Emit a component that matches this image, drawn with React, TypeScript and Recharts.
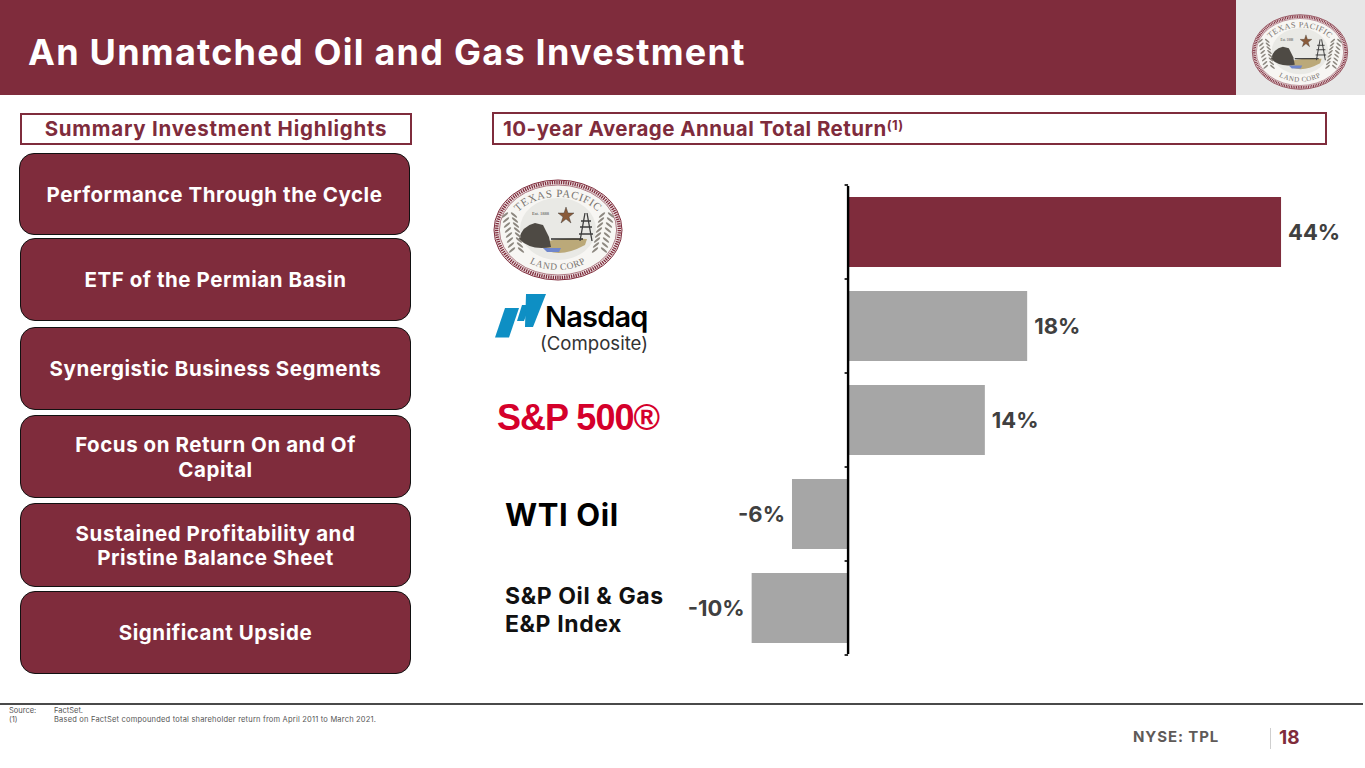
import React, { useId } from "react";
import { BarChart, Bar, XAxis, YAxis, Cell, LabelList, ReferenceLine } from "recharts";

const categories = ["Texas Pacific Land Corp", "Nasdaq Composite", "S&P 500", "WTI Oil", "S&P Oil & Gas E&P Index"];
const returns = [44, 18.2, 13.9, -5.7, -9.8];
const barColors = ["#7F2C3C", "#A6A6A6", "#A6A6A6", "#A6A6A6", "#A6A6A6"];
const highlights = [
  ["Performance Through the Cycle"],
  ["ETF of the Permian Basin"],
  ["Synergistic Business Segments"],
  ["Focus on Return On and Of", "Capital"],
  ["Sustained Profitability and", "Pristine Balance Sheet"],
  ["Significant Upside"],
];
const pillBoxes = [
  [19, 153, 391, 82],
  [20, 238, 391, 83],
  [20, 327, 391, 83],
  [20, 415, 391, 83],
  [20, 503, 391, 84],
  [20, 591, 391, 83],
];
const chartData = categories.map((name, i) => ({ name, value: returns[i] }));

const MAROON = "#7F2C3C";
const FONT = "Inter, 'Open Sans', sans-serif";

function Seal({ x, y, width, height }: { x: number; y: number; width: number; height: number }) {
  const id = useId().replace(/[^a-zA-Z0-9]/g, "");
  const leaves = [0, 1, 2, 3, 4, 5, 6, 7];
  return (
    <svg x={x} y={y} width={width} height={height} viewBox="0 0 130 102" style={{ overflow: "visible" }}>
      <ellipse cx={65} cy={51} rx={64} ry={50} fill="#EFE7E7" stroke={MAROON} strokeWidth={1} />
      <ellipse cx={65} cy={51} rx={61.3} ry={47.5} fill="none" stroke={MAROON} strokeWidth={3.4} strokeDasharray="1.3 1" />
      <ellipse cx={65} cy={51} rx={58.6} ry={45} fill="#F7F6F3" stroke={MAROON} strokeWidth={0.6} />
      <ellipse cx={65} cy={50} rx={38} ry={31} fill="#E9E9E5" />
      <path id={`${id}a`} d="M 17 52 A 48 34 0 0 1 113 52" fill="none" />
      <path id={`${id}b`} d="M 22 62 A 43 29 0 0 0 108 62" fill="none" />
      <text fontFamily="'Liberation Serif', serif" fontSize={11} fill="#77736F" letterSpacing={0.6} textAnchor="middle">
        <textPath href={`#${id}a`} startOffset="50%">TEXAS PACIFIC</textPath>
      </text>
      <text fontFamily="'Liberation Serif', serif" fontSize={9.5} fill="#77736F" letterSpacing={0.6} textAnchor="middle">
        <textPath href={`#${id}b`} startOffset="50%">LAND CORP</textPath>
      </text>
      <text x={39} y={36} fontFamily="'Liberation Serif', serif" fontSize={4.5} fill="#444">Est. 1888</text>
      <polygon points="73,28 75,34 81,34 76,38 78,44 73,40 68,44 70,38 65,34 71,34" fill="#8A5B3A" stroke="#333" strokeWidth={0.4} />
      <path d="M 45 66 Q 60 58 94 60 L 92 66 Q 70 78 55 72 Z" fill="#BBA979" />
      <path d="M 26 60 Q 29 47 42 44 L 50 46 L 56 58 L 58 68 Q 38 72 26 60 Z" fill="#4E4A44" />
      <path d="M 50 69 H 68 L 66 73 H 54 Z" fill="#6F86CB" />
      <path d="M 58 60 H 90" stroke="#222" strokeWidth={1.4} />
      <path d="M 92 34 L 87 62 M 94 34 L 99 62 M 88 42 H 98 M 87 48 H 99 M 86 55 H 100" stroke="#3D3D3D" strokeWidth={1.3} fill="none" />
      {leaves.map((i) => (
        <g key={i} fill="#8D8880">
          <ellipse cx={12 + i} cy={36 + i * 5} rx={4} ry={1.1} transform={`rotate(-40 ${12 + i} ${36 + i * 5})`} />
          <ellipse cx={21 + i} cy={36 + i * 5} rx={4} ry={1.1} transform={`rotate(40 ${21 + i} ${36 + i * 5})`} />
          <ellipse cx={118 - i} cy={36 + i * 5} rx={4} ry={1.1} transform={`rotate(40 ${118 - i} ${36 + i * 5})`} />
          <ellipse cx={109 - i} cy={36 + i * 5} rx={4} ry={1.1} transform={`rotate(-40 ${109 - i} ${36 + i * 5})`} />
        </g>
      ))}
    </svg>
  );
}

function CategoryMark(props: any) {
  const { x, y, payload } = props;
  const left = x - 227;
  switch (payload.value) {
    case categories[0]:
      return <Seal x={left - 2} y={y - 53} width={130} height={102} />;
    case categories[1]:
      return (
        <g>
          <g transform={`translate(${left},${y - 32})`} fill="#0E8FC4">
            <path d="M0 43.5 L10 14 L24 14 L14 43.5 Z" />
            <path d="M22 27 L27 11 L35 11 L29 27 Z" />
            <path d="M31 0 L51 0 L38 33 L30 33 Z" />
          </g>
          <text x={left + 50} y={y + 1} fontFamily={FONT} fontSize={29} fontWeight={600} fill="#000" letterSpacing={-0.8}>Nasdaq</text>
          <text x={left + 45} y={y + 24} fontFamily={FONT} fontSize={18.6} fill="#333">(Composite)</text>
        </g>
      );
    case categories[2]:
      return <text x={left + 2} y={y + 10} fontFamily="'Liberation Sans', sans-serif" fontSize={36} fontWeight={700} fill="#D5002B" letterSpacing={-1}>S&amp;P 500®</text>;
    case categories[3]:
      return <text x={left + 10} y={y + 12} fontFamily={FONT} fontSize={31} fontWeight={700} fill="#000" letterSpacing={0.6}>WTI Oil</text>;
    default:
      return (
        <text fontFamily={FONT} fontSize={23} fontWeight={700} fill="#111" letterSpacing={0.6}>
          <tspan x={left + 10} y={y - 4}>S&amp;P Oil &amp; Gas</tspan>
          <tspan x={left + 10} y={y + 24}>E&amp;P Index</tspan>
        </text>
      );
  }
}

function ZeroAxis(props: any) {
  const { x1, y1, x2, y2 } = props;
  const step = (y2 - y1) / categories.length;
  return (
    <g stroke="#000" fill="none">
      <line x1={x1} x2={x2} y1={y1 - 1} y2={y2 + 1} strokeWidth={2.4} />
      {[...categories, "end"].map((c, i) => (
        <line key={c} x1={x1 - 3.5} x2={x1} y1={y1 + i * step} y2={y1 + i * step} strokeWidth={1.6} />
      ))}
    </g>
  );
}

const box = (left: number, top: number, width: number, height: number): React.CSSProperties => ({
  position: "absolute",
  left,
  top,
  width,
  height,
  boxSizing: "border-box",
});

export default function App() {
  return (
    <div style={{ position: "absolute", left: 0, top: 0, width: 1365, height: 768, background: "#fff", overflow: "hidden", fontFamily: FONT }}>
      <div style={{ ...box(0, 0, 1236, 95), background: MAROON }} />
      <div style={{ ...box(1236, 0, 129, 95), background: "#E7E7E7" }} />
      <div style={{ ...box(28, 25, 1000, 54), color: "#fff", fontSize: 36, fontWeight: 700, lineHeight: "54px", letterSpacing: 1.25, whiteSpace: "nowrap" }}>
        An Unmatched Oil and Gas Investment
      </div>
      <svg style={{ ...box(1240, 8, 120, 88) }} width={120} height={88}>
        <Seal x={8} y={6} width={104} height={76} />
      </svg>

      <div style={{ ...box(20, 113, 392, 32), border: `2px solid ${MAROON}`, color: MAROON, fontSize: 20.5, fontWeight: 700, lineHeight: "28px", textAlign: "center", whiteSpace: "nowrap", letterSpacing: 0.75 }}>
        Summary Investment Highlights
      </div>
      <div style={{ ...box(492, 112, 835, 33), border: `2px solid ${MAROON}`, color: MAROON, fontSize: 20.5, fontWeight: 700, lineHeight: "30px", paddingLeft: 9, whiteSpace: "nowrap", letterSpacing: 0.47 }}>
        10-year Average Annual Total Return<sup style={{ fontSize: 13, lineHeight: 0, verticalAlign: "6px" }}>(1)</sup>
      </div>

      {highlights.map((lines, i) => {
        const [l, t, w, h] = pillBoxes[i];
        return (
          <div key={lines[0]} style={{ ...box(l, t, w, h), background: MAROON, border: "1px solid #111", borderRadius: 15, color: "#fff", fontSize: 20.5, fontWeight: 700, lineHeight: "24.5px", display: "flex", flexDirection: "column", alignItems: "center", justifyContent: "center", letterSpacing: 0.55, paddingTop: 2 }}>
            {lines.map((s) => <div key={s} style={{ whiteSpace: "nowrap" }}>{s}</div>)}
          </div>
        );
      })}

      <div style={{ ...box(480, 175, 880, 490) }}>
        <BarChart
          width={880}
          height={490}
          data={chartData}
          layout="vertical"
          margin={{ top: 10, right: 39.6, bottom: 10, left: 0 }}
          barSize={70}
        >
          <XAxis type="number" domain={[-12, 48]} hide />
          <YAxis type="category" dataKey="name" width={250} axisLine={false} tickLine={false} interval={0} tick={CategoryMark} />
          <Bar dataKey="value" isAnimationActive={false}>
            {chartData.map((d, i) => <Cell key={d.name} fill={barColors[i]} />)}
            <LabelList
              dataKey="value"
              position="right"
              offset={7}
              formatter={(v: number) => `${Math.round(v)}%`}
              style={{ fontFamily: FONT, fontSize: 22, fontWeight: 700, fill: "#404040" }}
            />
          </Bar>
          <ReferenceLine x={0} shape={ZeroAxis} ifOverflow="visible" />
        </BarChart>
      </div>

      <div style={{ ...box(0, 703, 1363, 2), background: "#4A4A4A" }} />
      <div style={{ ...box(9, 706, 60, 9), fontSize: 7.5, lineHeight: "9px", color: "#555" }}>Source:</div>
      <div style={{ ...box(54, 706, 400, 9), fontSize: 7.5, lineHeight: "9px", color: "#555" }}>FactSet.</div>
      <div style={{ ...box(9, 715, 60, 9), fontSize: 7.5, lineHeight: "9px", color: "#555" }}>(1)</div>
      <div style={{ ...box(54, 715, 500, 9), fontSize: 7.5, lineHeight: "9px", color: "#555", whiteSpace: "nowrap", letterSpacing: 0.2 }}>
        Based on FactSet compounded total shareholder return from April 2011 to March 2021.
      </div>
      <div style={{ ...box(1133, 727, 100, 20), fontSize: 15, fontWeight: 700, lineHeight: "20px", color: "#5F5A58", whiteSpace: "nowrap", letterSpacing: 0.9 }}>NYSE: TPL</div>
      <div style={{ ...box(1270, 728, 1, 21), background: "#CFCFCF" }} />
      <div style={{ ...box(1279, 726, 40, 24), fontSize: 19, fontWeight: 700, lineHeight: "24px", color: MAROON }}>18</div>
    </div>
  );
}
